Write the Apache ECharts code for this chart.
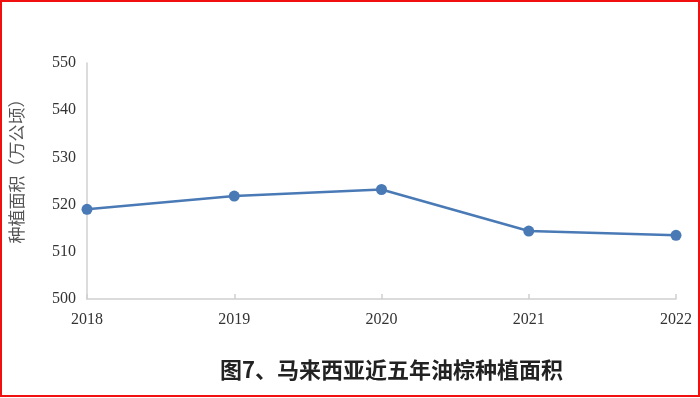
<!DOCTYPE html>
<html><head><meta charset="utf-8">
<script src="https://cdn.jsdelivr.net/npm/echarts@6/dist/echarts.min.js"></script>
<style>
html,body{margin:0;padding:0;background:#fff;}
#c{position:absolute;left:0;top:0;width:700px;height:398px;}
#b{position:absolute;left:0;top:0;width:700px;height:397px;box-sizing:border-box;border:2px solid #f01010;pointer-events:none;}
</style></head>
<body>
<div id="c"></div><div id="b"></div>
<script>
const years = ['2018','2019','2020','2021','2022'];
const area = [519.0, 521.8, 523.2, 514.4, 513.5];
const yTicks = {min: 500, max: 550, interval: 10};
const titleText = '图7、马来西亚近五年油棕种植面积';
const yName = '种植面积（万公顷）';

const chart = echarts.init(document.getElementById('c'));
chart.setOption({
  animation: false,
  backgroundColor: '#fff',
  title: {
    text: titleText, left: 215, top: 354,
    textStyle: {fontFamily: 'Noto Sans CJK SC', fontSize: 22, fontWeight: 'bold', color: '#222'}
  },
  grid: {left: 87, right: 24, top: 63, bottom: 99, containLabel: false, outerBoundsMode: 'none'},
  xAxis: {
    type: 'category', data: years, boundaryGap: false,
    axisLine: {lineStyle: {color: '#d0d0d0', width: 1.5}},
    axisTick: {show: true, inside: true, length: 5, lineStyle: {color: '#d0d0d0', width: 1.5}},
    axisLabel: {margin: 13, fontFamily: 'Liberation Serif', fontSize: 16, color: '#333'}
  },
  yAxis: {
    type: 'value', min: yTicks.min, max: yTicks.max, interval: yTicks.interval,
    name: yName, nameLocation: 'middle', nameRotate: 90, nameGap: 62,
    nameTextStyle: {fontFamily: 'Noto Sans CJK SC', fontSize: 17, color: '#555', padding: [0, 0, 0, 28]},
    axisLine: {show: true, lineStyle: {color: '#d0d0d0', width: 1.5}},
    axisTick: {show: false},
    splitLine: {show: false},
    axisLabel: {margin: 11, fontFamily: 'Liberation Serif', fontSize: 16, color: '#333'}
  },
  series: [{
    type: 'line', data: area,
    symbol: 'circle', symbolSize: 11,
    lineStyle: {color: '#4a7ab6', width: 2.5},
    itemStyle: {color: '#4a7ab6'}
  }]
});
</script>
</body></html>
